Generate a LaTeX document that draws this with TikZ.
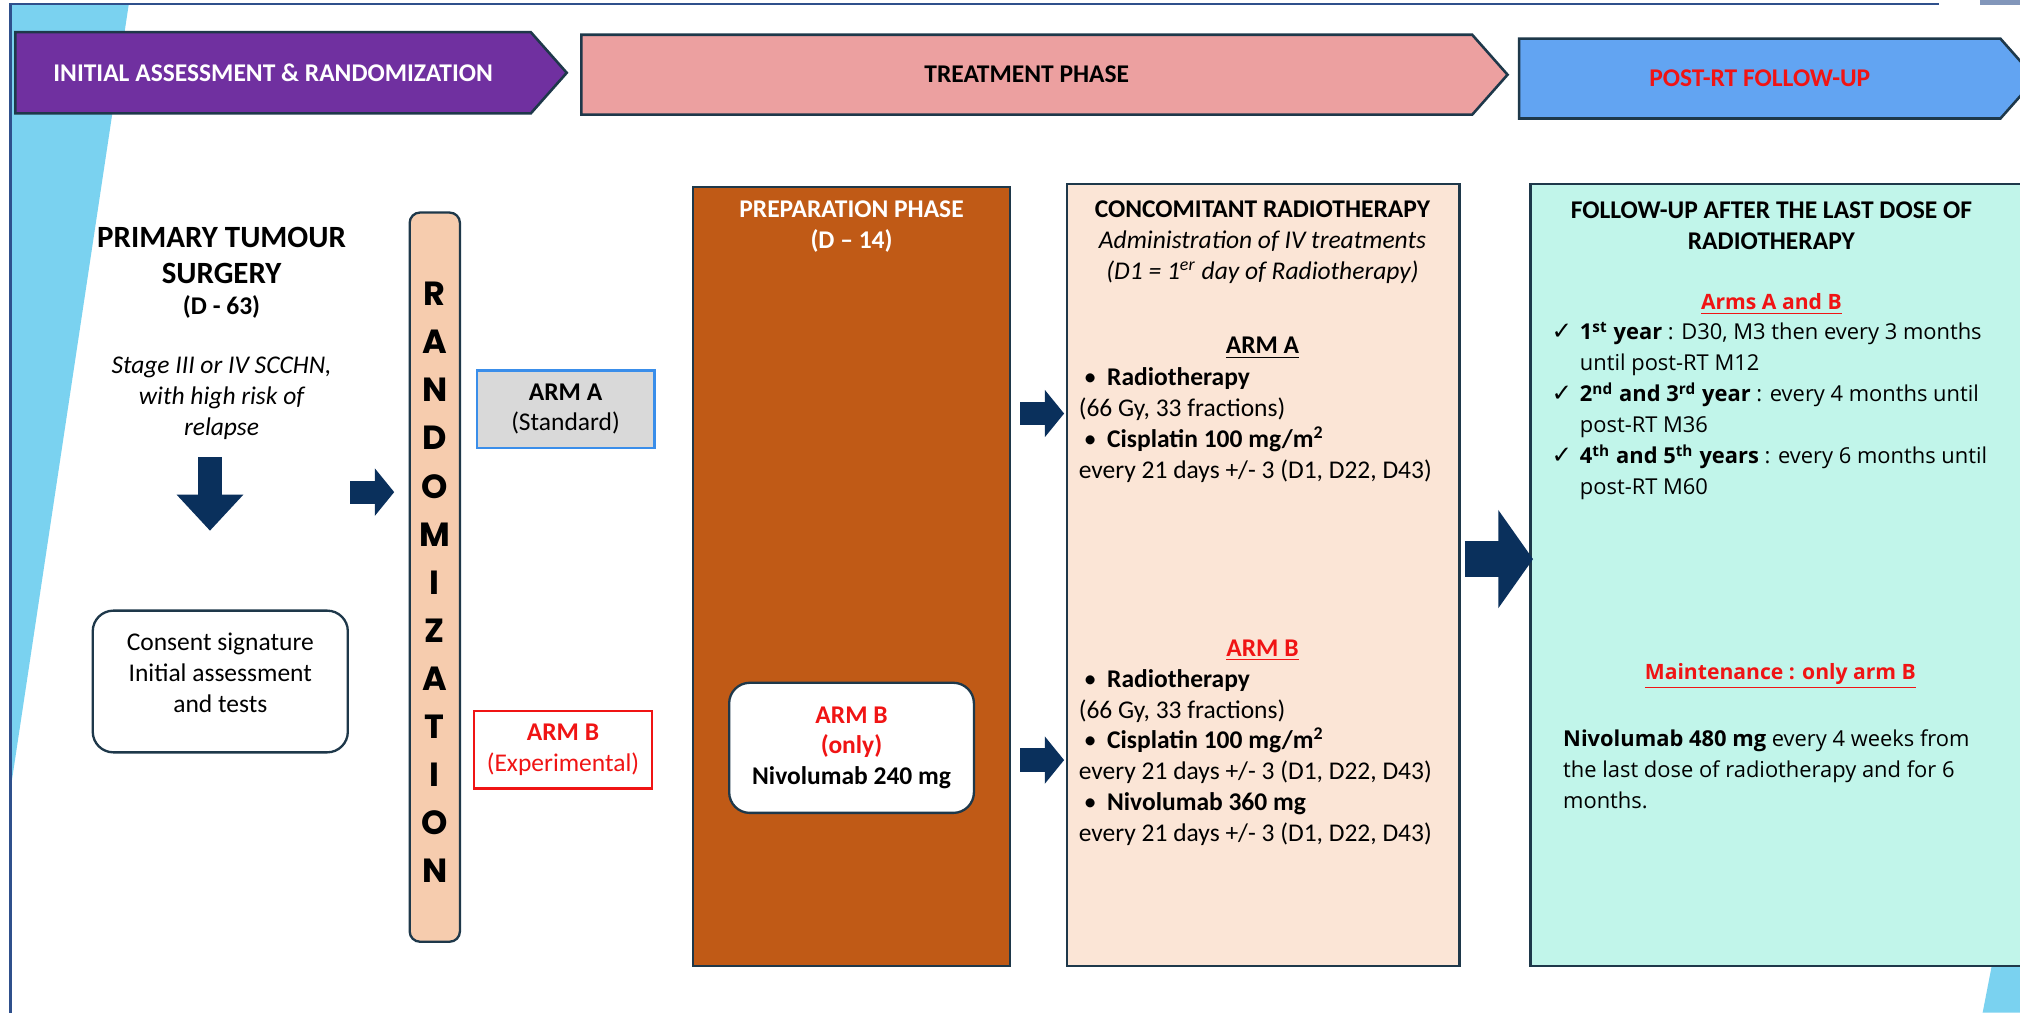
\documentclass[tikz,border=0pt]{standalone}
\usepackage{fontspec}
\setmainfont{Carlito}
\newfontfamily\opensans{Open Sans}
\newfontfamily\dejavu{DejaVu Sans}
\newfontfamily\poppins{Poppins}
\usetikzlibrary{arrows.meta,shapes.symbols,positioning}

\definecolor{navy}{RGB}{10,48,92}
\definecolor{edge}{RGB}{30,56,74}
\definecolor{framecol}{RGB}{47,80,140}
\definecolor{skyband}{RGB}{122,210,240}
\definecolor{bannerpurple}{RGB}{112,48,160}
\definecolor{bannerpink}{RGB}{236,160,160}
\definecolor{bannerblue}{RGB}{98,164,242}
\definecolor{randpeach}{RGB}{246,204,174}
\definecolor{armgray}{RGB}{217,217,217}
\definecolor{armblue}{RGB}{58,142,234}
\definecolor{armred}{RGB}{240,20,20}
\definecolor{prepbrown}{RGB}{192,90,22}
\definecolor{concpeach}{RGB}{251,229,214}
\definecolor{followmint}{RGB}{193,245,234}

\newcommand\bodyfont{\fontsize{9.9}{12}\selectfont}
\newcommand\listfont{\opensans\fontsize{8.5}{12}\selectfont}
\newcommand\headfont{\opensans\fontsize{8.2}{12}\selectfont}
\newcommand\tick{\makebox[11pt][l]{\dejavu\fontsize{9.5}{12}\selectfont ✓}}

\tikzset{
  banner/.style={signal, signal to=east, signal pointer angle=97, draw=edge,
    line width=1pt, inner sep=0pt, font=\bfseries\bodyfont},
  txt/.style={inner sep=0pt, align=center, font=\bodyfont},
  phasebox/.style={draw=edge, line width=0.9pt, inner sep=0pt},
  roundbox/.style={draw=edge, line width=0.9pt, rounded corners=8pt, fill=white,
    inner sep=0pt, align=center, font=\bodyfont},
  armbox/.style={line width=0.9pt, inner sep=0pt, align=center, font=\bodyfont,
    minimum width=69pt, minimum height=30pt},
  randletter/.style={inner sep=0pt, font=\poppins\bfseries\fontsize{13}{14}\selectfont},
  smallarrow/.style={draw=navy, line width=9pt, -{Triangle[length=7.5pt,width=18pt]}},
  downarrow/.style={draw=navy, line width=9pt, -{Triangle[length=14pt,width=25pt]}},
  bigarrow/.style={draw=navy, line width=14pt, -{Triangle[length=13.5pt,width=37.5pt]}}
}

\begin{document}
\begin{tikzpicture}[x=0.5pt,y=-0.5pt]
\useasboundingbox (0,0) rectangle (1568,786);
\clip (0,0) rectangle (1568,786);
\fill[white] (0,0) rectangle (1568,786);

\fill[skyband] (8,3) -- (100,3) -- (8,614) -- cycle;
\fill[skyband] (1546,750) -- (1568,750) -- (1568,786) -- (1539,786) -- cycle;
\fill[framecol!60] (1537,0) rectangle (1568,4);
\draw[framecol, line width=1pt] (8,786) -- (8,3) -- (1505,3);

\node[banner, fill=bannerpurple, text=white, minimum width=214pt, minimum height=31.5pt] (ban1) at (212,56.5) {INITIAL ASSESSMENT \& RANDOMIZATION};
\node[banner, fill=bannerpink, minimum width=359.5pt, minimum height=31pt] (ban2) at (797,58) {TREATMENT PHASE};
\node[banner, fill=bannerblue, text=armred, minimum width=200.5pt, minimum height=31pt] (ban3) at (1366,61) {POST-RT FOLLOW-UP};

\node[txt, font=\bfseries\fontsize{12}{14}\selectfont] (surgery) at (172,198) {PRIMARY TUMOUR\\SURGERY};
\node[txt, font=\bfseries\bodyfont] (dday) at (172,238) {(D - 63)};
\node[txt, font=\itshape\bodyfont] (stage) at (172,309) {Stage III or IV SCCHN,\\with high risk of\\relapse};
\node[roundbox, minimum width=99pt, minimum height=55pt] (consent) at (171,529) {Consent signature\\Initial assessment\\and tests\\[-5pt]\mbox{}};

\node[phasebox, fill=randpeach, rounded corners=4pt, minimum width=19.5pt, minimum height=283pt] (rand) at (337.5,448) {};
\foreach \l [count=\i from 0] in {R,A,N,D,O,M,I,Z,A,T,I,O,N}
  \node[randletter] (let\i) at (337.5,{228+37.35*\i}) {\l};

\node[armbox, draw=armblue, fill=armgray] (armA) at (439,317.5) {\textbf{ARM A}\\(Standard)};
\node[armbox, draw=armred, fill=white, text=armred] (armB) at (437,582) {\textbf{ARM B}\\(Experimental)};

\node[phasebox, fill=prepbrown, minimum width=123pt, minimum height=302.5pt] (prep) at (661,447.5) {};
\node[txt, font=\bfseries\bodyfont, text=white] (preptitle) at (661,176) {PREPARATION PHASE\\(D -- 14)};
\node[roundbox, font=\bfseries\bodyfont, minimum width=95pt, minimum height=50.5pt] (prepB) at (661,580.5) {\textcolor{armred}{ARM B}\\\textcolor{armred}{(only)}\\Nivolumab 240 mg};

\node[phasebox, fill=concpeach, minimum width=152.5pt, minimum height=303.5pt] (conc) at (980.5,446.5) {};
\node[txt] (conctitle) at (980,188) {\textbf{CONCOMITANT RADIOTHERAPY}\\\textit{Administration of IV treatments}\\\textit{(D1 = 1\textsuperscript{er} day of Radiotherapy)}};
\node[txt, font=\bfseries\bodyfont] (concA) at (980,270) {\underline{ARM A}};
\node[txt, align=left, anchor=west] (listA) at (837,330) {\hspace*{2pt}\makebox[9pt][l]{\textbullet}\textbf{Radiotherapy}\\(66 Gy, 33 fractions)\\\hspace*{2pt}\makebox[9pt][l]{\textbullet}\textbf{Cisplatin 100 mg/m\textsuperscript{2}}\\every 21 days +/- 3 (D1, D22, D43)};
\node[txt, font=\bfseries\bodyfont, text=armred] (concB) at (980,505) {\underline{ARM B}};
\node[txt, align=left, anchor=west] (listB) at (837,588) {\hspace*{2pt}\makebox[9pt][l]{\textbullet}\textbf{Radiotherapy}\\(66 Gy, 33 fractions)\\\hspace*{2pt}\makebox[9pt][l]{\textbullet}\textbf{Cisplatin 100 mg/m\textsuperscript{2}}\\every 21 days +/- 3 (D1, D22, D43)\\\hspace*{2pt}\makebox[9pt][l]{\textbullet}\textbf{Nivolumab 360 mg}\\every 21 days +/- 3 (D1, D22, D43)};

\node[phasebox, fill=followmint, minimum width=196pt, minimum height=303.5pt] (follow) at (1384,446.5) {};
\node[txt, font=\bfseries\bodyfont] (followtitle) at (1375,175) {FOLLOW-UP AFTER THE LAST DOSE OF\\RADIOTHERAPY};
\node[txt, font=\headfont\bfseries, text=armred] (arms) at (1375,236) {\underline{Arms A and B}};
\node[txt, font=\listfont, align=left, anchor=west] (fulist) at (1204,319) {\tick\textbf{1\textsuperscript{st} year} : D30, M3 then every 3 months\\\hspace*{11pt}until post-RT M12\\\tick\textbf{2\textsuperscript{nd} and 3\textsuperscript{rd} year} : every 4 months until\\\hspace*{11pt}post-RT M36\\\tick\textbf{4\textsuperscript{th} and 5\textsuperscript{th} years} : every 6 months until\\\hspace*{11pt}post-RT M60};
\node[txt, font=\headfont\bfseries, text=armred] (maint) at (1382,525) {\underline{Maintenance : only arm B}};
\node[txt, font=\listfont, align=left, anchor=west] (nivo) at (1213,597) {\textbf{Nivolumab 480 mg} every 4 weeks from\\the last dose of radiotherapy and for 6\\months.};

\coordinate (down1) at (163,355);
\coordinate (down2) at (163,412);
\coordinate (toRand1) at (272,382);
\coordinate (toRand2) at (306,382);
\coordinate (toA1) at (792,321);
\coordinate (toA2) at (826,321);
\coordinate (toB1) at (792,590);
\coordinate (toB2) at (826,590);
\coordinate (toFollow1) at (1137,434);
\coordinate (toFollow2) at (1190,434);
\draw[downarrow] (down1) -- (down2);
\draw[smallarrow] (toRand1) -- (toRand2);
\draw[smallarrow] (toA1) -- (toA2);
\draw[smallarrow] (toB1) -- (toB2);
\draw[bigarrow] (toFollow1) -- (toFollow2);
\end{tikzpicture}
\end{document}
